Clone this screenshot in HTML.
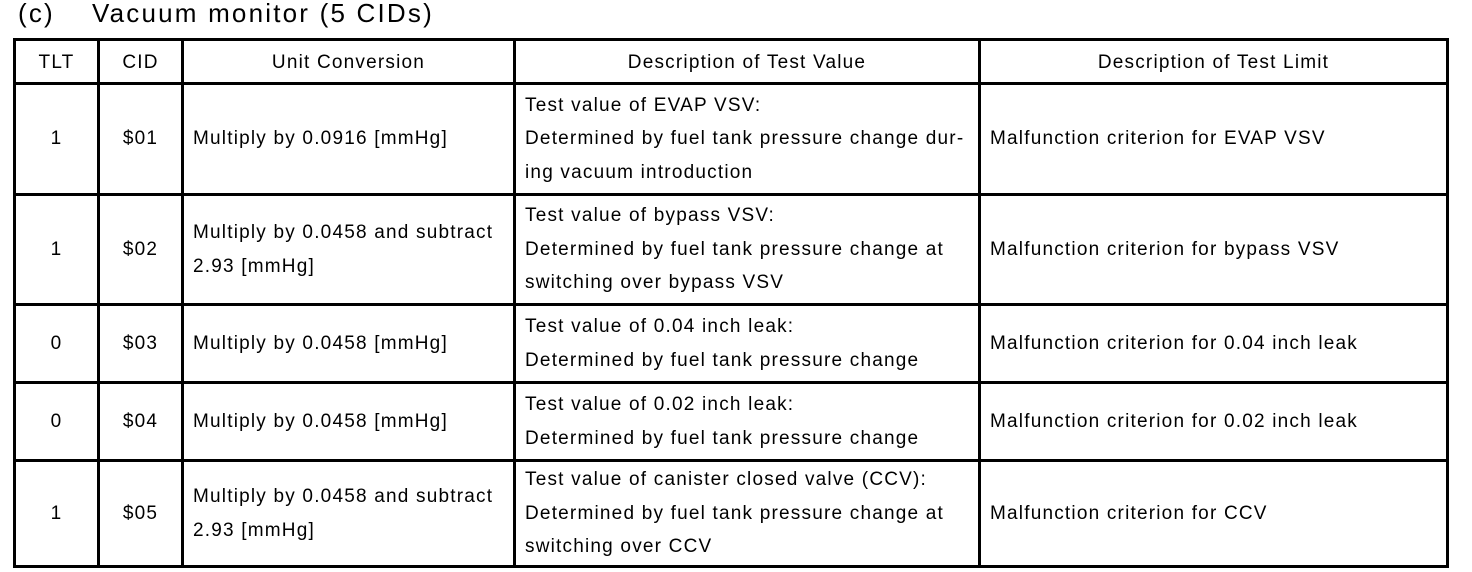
<!DOCTYPE html>
<html><head><meta charset="utf-8"><style>
body{margin:0;background:#fff;width:1472px;height:572px;overflow:hidden;font-family:"Liberation Sans",Arial,sans-serif;color:#000}
.t{position:absolute;top:-2px;font-size:26px;line-height:30px;white-space:pre;letter-spacing:2.2px}
table{position:absolute;left:13px;top:38px;border-collapse:collapse;table-layout:fixed}
td,th{border:3px solid #000;font-size:19px;letter-spacing:1.2px;font-weight:normal;padding:0 9px;line-height:33.5px;vertical-align:middle;white-space:nowrap;box-sizing:border-box}
th{text-align:center;height:44px;line-height:22px;padding-top:3px;padding-bottom:0}
td.c{text-align:center}
</style></head><body>
<div class="t" style="left:18px">(c)</div>
<div class="t" style="left:92px">Vacuum monitor (5 CIDs)</div>
<table>
<colgroup><col style="width:84px"><col style="width:84px"><col style="width:332px"><col style="width:465px"><col style="width:468px"></colgroup>
<tr><th>TLT</th><th>CID</th><th>Unit Conversion</th><th>Description of Test Value</th><th>Description of Test Limit</th></tr>
<tr style="height:111px"><td class="c">1</td><td class="c">$01</td><td>Multiply by 0.0916 [mmHg]</td><td>Test value of EVAP VSV:<br>Determined by fuel tank pressure change dur-<br>ing vacuum introduction</td><td>Malfunction criterion for EVAP VSV</td></tr>
<tr style="height:110px"><td class="c">1</td><td class="c">$02</td><td>Multiply by 0.0458 and subtract<br>2.93 [mmHg]</td><td>Test value of bypass VSV:<br>Determined by fuel tank pressure change at<br>switching over bypass VSV</td><td>Malfunction criterion for bypass VSV</td></tr>
<tr style="height:78px"><td class="c">0</td><td class="c">$03</td><td>Multiply by 0.0458 [mmHg]</td><td>Test value of 0.04 inch leak:<br>Determined by fuel tank pressure change</td><td>Malfunction criterion for 0.04 inch leak</td></tr>
<tr style="height:78px"><td class="c">0</td><td class="c">$04</td><td>Multiply by 0.0458 [mmHg]</td><td>Test value of 0.02 inch leak:<br>Determined by fuel tank pressure change</td><td>Malfunction criterion for 0.02 inch leak</td></tr>
<tr style="height:106px"><td class="c">1</td><td class="c">$05</td><td>Multiply by 0.0458 and subtract<br>2.93 [mmHg]</td><td>Test value of canister closed valve (CCV):<br>Determined by fuel tank pressure change at<br>switching over CCV</td><td>Malfunction criterion for CCV</td></tr>
</table>
</body></html>
